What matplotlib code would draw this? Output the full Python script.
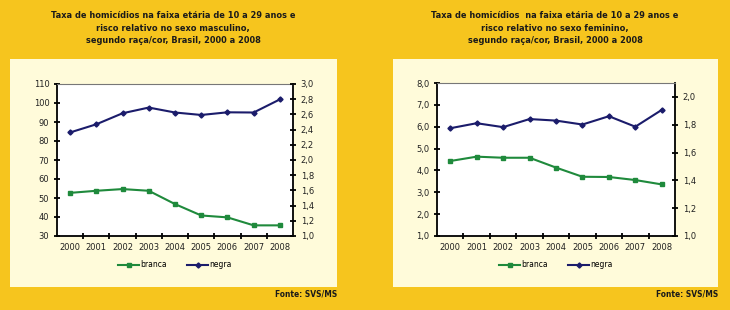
import matplotlib
matplotlib.use("Agg")
import matplotlib.pyplot as plt
import numpy as np
from matplotlib.patches import Rectangle
from matplotlib.ticker import FuncFormatter, FixedLocator

years = ["2000", "2001", "2002", "2003", "2004", "2005", "2006", "2007", "2008"]
masc_branca = [52.7, 53.8, 54.7, 53.8, 46.8, 40.8, 39.8, 35.6, 35.6]
masc_negra = [84.5, 88.8, 94.6, 97.6, 95.0, 93.7, 95.1, 95.0, 101.9]
fem_branca = [4.43, 4.63, 4.58, 4.58, 4.13, 3.71, 3.70, 3.56, 3.36]
fem_negra = [5.93, 6.16, 5.98, 6.35, 6.28, 6.10, 6.48, 6.00, 6.77]

title_masc = ("Taxa de homicídios na faixa etária de 10 a 29 anos e\n"
              "risco relativo no sexo masculino,\n"
              "segundo raça/cor, Brasil, 2000 a 2008")
title_fem = ("Taxa de homicídios  na faixa etária de 10 a 29 anos e\n"
             "risco relativo no sexo feminino,\n"
             "segundo raça/cor, Brasil, 2000 a 2008")
source = "Fonte: SVS/MS"
labels = ["branca", "negra"]

BG = "#F6C51E"
CREAM = "#FFFBDA"
GREEN = "#1F8A3C"
NAVY = "#1B1C6B"
TXT = "#222222"

W, H = 730, 310
fig = plt.figure(figsize=(W / 100, H / 100), dpi=100)
fig.patch.set_facecolor(BG)

def px_rect(x0, y0, x1, y1):
    return [x0 / W, 1 - y1 / H, (x1 - x0) / W, (y1 - y0) / H]

def comma(fmt):
    return FuncFormatter(lambda v, p: (fmt % v).replace(".", ","))

def panel(box, ax_box, title, title_x, branca, negra, lylim, lstep, lfmt,
          rylim, rticks):
    bx = px_rect(*box)
    fig.patches.append(Rectangle((bx[0], bx[1]), bx[2], bx[3],
                                 transform=fig.transFigure,
                                 facecolor=CREAM, edgecolor="none", zorder=-5))
    ax = fig.add_axes(px_rect(*ax_box))
    ax.set_zorder(1)
    ax.set_facecolor("white")
    x = list(range(len(years)))
    ax.plot(x, branca, color=GREEN, marker="s", markersize=3.2, lw=1.5,
            label=labels[0])
    ax.plot(x, negra, color=NAVY, marker="D", markersize=2.6, lw=1.5,
            label=labels[1])
    ax.set_xlim(-0.5, len(years) - 0.5)
    ax.set_ylim(*lylim)
    ax.set_yticks(np.arange(lylim[0], lylim[1] + 1e-9, lstep))
    ax.yaxis.set_major_formatter(comma(lfmt))
    ax.set_xticks(x)
    ax.set_xticklabels(years)
    ax.xaxis.set_minor_locator(FixedLocator([i + 0.5 for i in range(len(years) - 1)]))
    ax.tick_params(axis="x", which="major", length=0, labelsize=6, colors=TXT, pad=5)
    ax.tick_params(axis="x", which="minor", length=5, width=1.3, direction="inout",
                   color="black")
    ax.tick_params(axis="y", length=5, width=1.3, direction="inout",
                   labelsize=6, colors="black", labelcolor=TXT, pad=3)
    for s in ["left", "bottom", "right"]:
        ax.spines[s].set_linewidth(1.3)
        ax.spines[s].set_color("black")
    ax.spines["top"].set_linewidth(0.8)
    ax.spines["top"].set_color("#777777")
    ax2 = ax.twinx()
    ax2.set_ylim(*rylim)
    ax2.set_yticks(rticks)
    ax2.yaxis.set_major_formatter(comma("%.1f"))
    ax2.tick_params(axis="y", length=5, width=1.3, direction="inout",
                    labelsize=6, colors="black", labelcolor=TXT, pad=3)
    for s in ax2.spines.values():
        s.set_visible(False)
    ax.legend(loc="upper center", bbox_to_anchor=(0.5, -0.115), ncol=2,
              frameon=False, fontsize=5.5, handlelength=2.8, columnspacing=2.6,
              handletextpad=0.15)
    fig.text(title_x / W, 1 - 11 / H, title, ha="center", va="top",
             fontsize=6.6, fontweight="bold", color="#1a1a1a",
             family="DejaVu Sans", fontstretch="condensed", linespacing=1.5)
    fig.text(box[2] / W, 1 - 294 / H, source, ha="right", va="center",
             fontsize=6.0, fontweight="bold", color="#1a1a1a",
             family="DejaVu Sans", fontstretch="condensed")
    return ax

panel((10, 59, 337, 287), (57, 84, 293, 236), title_masc, 173,
      masc_branca, masc_negra, (30, 110), 10, "%d",
      (1.0, 3.0), [1.0 + 0.2 * i for i in range(11)])
panel((393, 59, 718, 287), (437, 83, 675, 236), title_fem, 555,
      fem_branca, fem_negra, (1.0, 8.0), 1.0, "%.1f",
      (1.0, 2.1), [1.0 + 0.2 * i for i in range(6)])

fig.savefig("out.png", dpi=100, facecolor=BG)
